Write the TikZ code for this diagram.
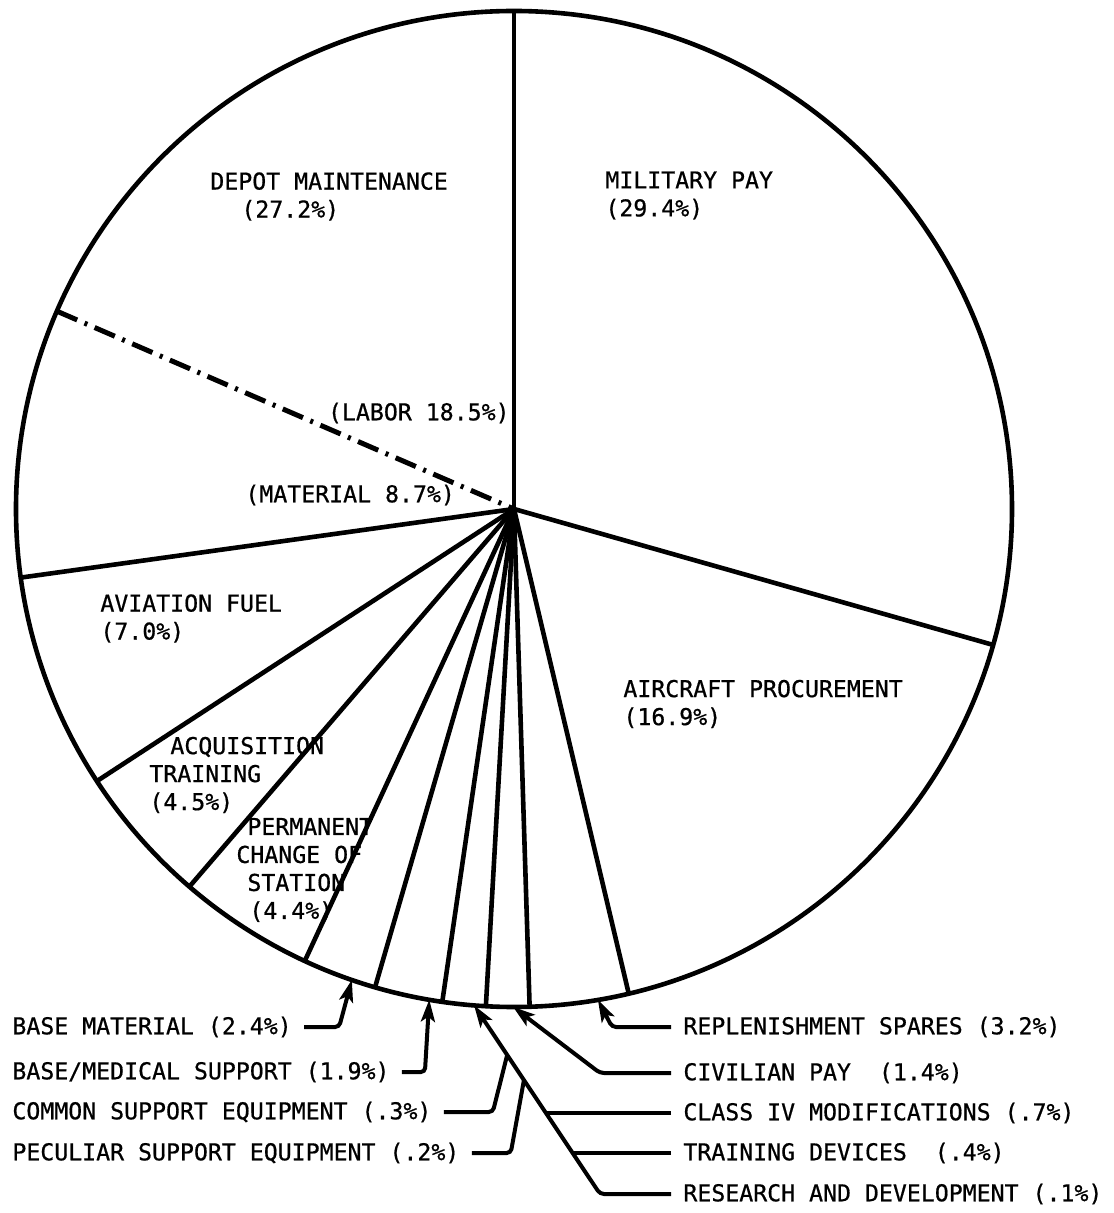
\documentclass[tikz,border=0pt]{standalone}
\usepackage{fontspec}
\newfontfamily\lblfont{DejaVu Sans Mono}[FakeBold=0.7]
\usepackage{tikz}
\usetikzlibrary{positioning,arrows.meta,calc}

\begin{document}
\begin{tikzpicture}[
    x=0.5pt, y=0.5pt,
    pieline/.style={line width=2.3pt, line join=round},
    splitline/.style={line width=2.5pt,
        dash pattern=on 11pt off 4pt on 1.5pt off 4pt},
    slicelbl/.style={font=\lblfont\fontsize{11.6}{14}\selectfont,
        align=left, inner sep=0pt},
    leglbl/.style={font=\lblfont\fontsize{11.6}{14}\selectfont,
        inner xsep=6pt, inner ysep=0pt},
    leader/.style={line width=2pt, rounded corners=2pt},
    pointer/.style={leader, -{Stealth[length=11pt,width=7pt,inset=2.5pt]}},
]
\useasboundingbox (-514,509) rectangle (599,-704);

% Pie outline and slice borders
\coordinate (ctr) at (0,0);
\draw[pieline] (ctr) circle[radius=498];
\foreach \ang in {90,-15.84,-76.68,-88.2,-93.24,-98.28,-106.2,-114.84,-130.68,-146.88,-172.08}
    \draw[pieline] (ctr) -- (\ang:498);

% Labor / material split of depot maintenance
\draw[splitline] (156.6:498) -- (ctr);

% Slice labels
\node[slicelbl, anchor=west] (depot) at (-304,312.5)
    {DEPOT MAINTENANCE\\\hspace*{15.5pt}(27.2\%)};
\node[slicelbl, anchor=west] (milpay) at (91,313.5) {MILITARY PAY\\(29.4\%)};
\node[slicelbl, anchor=east] (labor) at (-4,96) {(LABOR 18.5\%)};
\node[slicelbl, anchor=west] (material) at (-269,14) {(MATERIAL 8.7\%)};
\node[slicelbl, anchor=west] (fuel) at (-414,-109.5) {AVIATION FUEL\\(7.0\%)};
\node[slicelbl, anchor=west] (aircraft) at (109,-195)
    {AIRCRAFT PROCUREMENT\\(16.9\%)};
\node[slicelbl, anchor=west] (acqtrain) at (-365,-266)
    {\hspace*{10.5pt}ACQUISITION\\TRAINING\\(4.5\%)};
\node[slicelbl, anchor=west] (pcs) at (-278,-361)
    {\hspace*{5.5pt}PERMANENT\\CHANGE OF\\\hspace*{5.5pt}STATION\\\hspace*{6.5pt}(4.4\%)};

% Legend, left column
\node[leglbl, anchor=west] (basemat) at (-514,-518) {BASE MATERIAL (2.4\%)};
\node[leglbl, below=22.5pt of basemat.west, anchor=west] (basemed)
    {BASE/MEDICAL SUPPORT (1.9\%)};
\node[leglbl, below=20pt of basemed.west, anchor=west] (commonse)
    {COMMON SUPPORT EQUIPMENT (.3\%)};
\node[leglbl, below=20.5pt of commonse.west, anchor=west] (peculiar)
    {PECULIAR SUPPORT EQUIPMENT (.2\%)};

% Legend, right column
\node[leglbl, anchor=west] (replen) at (157,-518) {REPLENISHMENT SPARES (3.2\%)};
\node[leglbl, below=23pt of replen.west, anchor=west] (civpay)
    {CIVILIAN PAY~~(1.4\%)};
\node[leglbl, below=20pt of civpay.west, anchor=west] (classiv)
    {CLASS IV MODIFICATIONS (.7\%)};
\node[leglbl, below=20pt of classiv.west, anchor=west] (traindev)
    {TRAINING DEVICES~~(.4\%)};
\node[leglbl, below=20.5pt of traindev.west, anchor=west] (resdev)
    {RESEARCH AND DEVELOPMENT (.1\%)};

% Arrow tips on the rim
\coordinate (tipbm) at (-109:498);
\coordinate (tipmed) at (-99.8:498);
\coordinate (tiprep) at (-80.3:498);
\coordinate (tipciv) at (-90.1:498);
\coordinate (tiprd) at (-94.6:498);
\coordinate (bendrd) at ($(resdev.west)+(-71,0)$);

% Pointers
\draw[pointer] (basemat.east) -- ++(35,0) -- (tipbm);
\draw[pointer] (basemed.east) -- ++(23,0) -- (tipmed);
\draw[pointer] (replen.west) -- ++(-59,0) -- (tiprep);
\draw[pointer] (civpay.west) -- ++(-71,0) -- (tipciv);
\draw[pointer] (resdev.west) -- (bendrd) -- (tiprd);

% Leaders that run into the R&D pointer
\coordinate (jclass) at ($(tiprd)!0.570!(bendrd)$);
\coordinate (jtrain) at ($(tiprd)!0.783!(bendrd)$);
\coordinate (jcommon) at ($(tiprd)!0.263!(bendrd)$);
\coordinate (jpecul) at ($(tiprd)!0.396!(bendrd)$);
\draw[leader] (classiv.west) -- (classiv.west -| jclass);
\draw[leader] (traindev.west) -- (traindev.west -| jtrain);
\draw[leader] (commonse.east) -- ++(49,0) -- (jcommon);
\draw[leader] (peculiar.east) -- ++(39,0) -- (jpecul);

\end{tikzpicture}
\end{document}
